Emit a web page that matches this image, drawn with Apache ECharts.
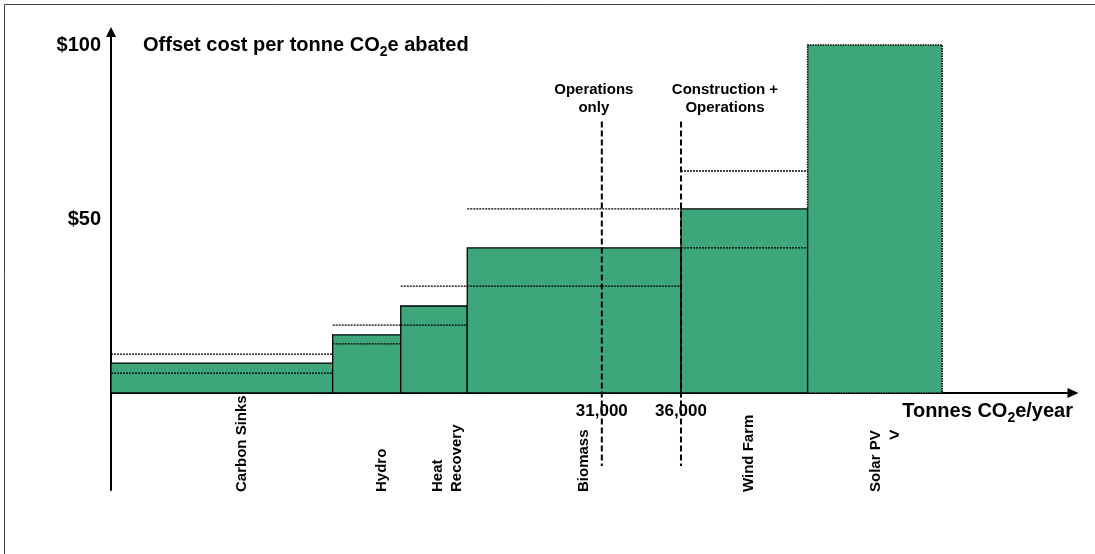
<!DOCTYPE html>
<html>
<head>
<meta charset="utf-8">
<script src="https://cdn.jsdelivr.net/npm/echarts@6/dist/echarts.min.js"></script>
<style>
  html, body { margin: 0; padding: 0; background: #fff; }
  #chart { width: 1095px; height: 554px; }
</style>
</head>
<body>
<div id="chart"></div>
<script>
// Abatement options, in order of increasing cost
const categories = ['Carbon Sinks', 'Hydro', 'Heat\nRecovery', 'Biomass', 'Wind Farm', 'Solar PV'];
// Tonnes CO2e abated per year by each option (bar widths)
const tonnes = [14000, 4300, 4200, 13500, 8000, 8500];
// Offset cost per tonne, central estimate ($)
const cost = [8.6, 16.7, 25.0, 41.7, 52.9, 100];
// Low / high cost estimates ($), shown as dotted lines
const costLow = [5.7, 14.1, 19.5, 30.7, 41.7, null];
const costHigh = [11.2, 19.5, 30.7, 52.9, 63.8, null];
// Cumulative abatement targets for the two scenarios
const scenarioTonnes = [31000, 36000];
const scenarioLabels = ['Operations\nonly', 'Construction +\nOperations'];
// Cost axis labels
const yTicks = [50, 100];

const FONT = '"Liberation Sans", Arial, Helvetica, sans-serif';
const GREEN = '#3ea67b';

// left edge of every bar = running total of the previous widths
const starts = [];
let running = 0;
tonnes.forEach(t => { starts.push(running); running += t; });

const barData = categories.map((c, i) => [starts[i], starts[i] + tonnes[i], cost[i]]);

const chart = echarts.init(document.getElementById('chart'), null, { renderer: 'canvas' });

chart.setOption({
  animation: false,
  backgroundColor: '#fff',
  title: [
    {
      text: 'Offset cost per tonne CO{sub|2}e abated',
      left: 143, top: 31, padding: 0,
      textStyle: {
        fontFamily: FONT, fontSize: 20, fontWeight: 'bold', color: '#000', lineHeight: 28,
        rich: { sub: { fontFamily: FONT, fontSize: 14, fontWeight: 'bold', color: '#000', lineHeight: 14, verticalAlign: 'bottom' } }
      }
    },
    {
      text: 'Tonnes CO{sub|2}e/year',
      right: 22, top: 397, padding: 0,
      textStyle: {
        fontFamily: FONT, fontSize: 20, fontWeight: 'bold', color: '#000', lineHeight: 28,
        rich: { sub: { fontFamily: FONT, fontSize: 14, fontWeight: 'bold', color: '#000', lineHeight: 14, verticalAlign: 'bottom' } }
      }
    }
  ],
  graphic: [
    { type: 'rect', shape: { x: 4.5, y: 4.5, width: 1200, height: 700 }, style: { fill: 'none', stroke: '#444', lineWidth: 1 }, silent: true, z: -1 },
    { type: 'text', x: 889, y: 436, style: { text: '>', font: 'bold 18px ' + FONT, fill: '#000', verticalAlign: 'middle' }, silent: true }
  ],
  grid: { left: 111, right: 22, top: 32, bottom: 64, containLabel: false, outerBoundsMode: 'none' },
  xAxis: {
    type: 'value',
    min: 0,
    max: 60760,
    axisLine: { show: true, onZero: true, lineStyle: { color: '#000', width: 2 }, symbol: ['none', 'triangle'], symbolSize: [10, 11] },
    axisTick: { show: false },
    splitLine: { show: false },
    axisLabel: { show: false }
  },
  yAxis: {
    type: 'value',
    min: -27.87,
    max: 103.74,
    axisLine: { show: true, onZero: true, lineStyle: { color: '#000', width: 2 }, symbol: ['none', 'triangle'], symbolSize: [10, 10] },
    axisTick: { show: false },
    splitLine: { show: false },
    axisLabel: {
      customValues: yTicks,
      formatter: v => '$' + v,
      fontFamily: FONT, fontSize: 20, fontWeight: 'bold', color: '#000', margin: 10
    }
  },
  series: [
    {
      // cost bars, width = tonnes abated
      type: 'custom',
      data: barData,
      z: 2,
      renderItem: (params, api) => {
        const i = params.dataIndex;
        const p0 = api.coord([api.value(0), 0]);
        const p1 = api.coord([api.value(1), api.value(2)]);
        const cs = params.coordSys;
        const dotted = i === categories.length - 1;
        // option names hang below the axis, a little right of each bar centre
        const mid = (p0[0] + p1[0]) / 2;
        const labelX = cs.x + (mid - cs.x) * 0.971 + 23;
        return {
          type: 'group',
          children: [
            {
              type: 'rect',
              shape: { x: p0[0], y: p1[1], width: p1[0] - p0[0], height: p0[1] - p1[1] },
              style: { fill: GREEN, stroke: '#000', lineWidth: dotted ? 1.6 : 1.3, lineDash: dotted ? [1.5, 1] : null }
            },
            {
              type: 'text',
              x: labelX,
              y: cs.y + cs.height + 2,
              rotation: Math.PI / 2,
              style: {
                text: categories[i], font: 'bold 15px ' + FONT, fill: '#000',
                align: 'left', verticalAlign: 'middle', lineHeight: 19
              }
            }
          ]
        };
      }
    },
    {
      // low / high cost estimates
      type: 'custom',
      data: barData,
      z: 3,
      renderItem: (params, api) => {
        const i = params.dataIndex;
        const x0 = api.value(0), x1 = api.value(1);
        const children = [];
        [costLow[i], costHigh[i]].forEach(v => {
          if (v == null) return;
          const a = api.coord([x0, v]), b = api.coord([x1, v]);
          children.push({
            type: 'line',
            shape: { x1: a[0], y1: a[1], x2: b[0], y2: b[1] },
            style: { stroke: '#000', lineWidth: 1.3, lineDash: [2, 1] }
          });
        });
        return { type: 'group', children };
      }
    },
    {
      // scenario thresholds with their tonnage below the axis
      type: 'custom',
      data: scenarioTonnes.map(t => [t]),
      z: 4,
      renderItem: (params, api) => {
        const i = params.dataIndex;
        const x = api.value(0);
        const top = api.coord([x, 78]);
        const bottom = api.coord([x, -21]);
        const base = api.coord([x, 0]);
        const shift = [-8, 44][i];
        return {
          type: 'group',
          children: [
            {
              type: 'line',
              shape: { x1: top[0], y1: top[1], x2: bottom[0], y2: bottom[1] },
              style: { stroke: '#000', lineWidth: 2, lineDash: [6, 3] }
            },
            {
              type: 'text',
              x: top[0] + shift,
              y: top[1] - 5,
              style: {
                text: scenarioLabels[i], font: 'bold 15px ' + FONT, fill: '#000',
                align: 'center', verticalAlign: 'bottom', lineHeight: 18
              }
            },
            {
              type: 'text',
              x: base[0],
              y: base[1] + 8,
              style: {
                text: x.toLocaleString('en-US'), font: 'bold 17px ' + FONT, fill: '#000',
                align: 'center', verticalAlign: 'top', lineHeight: 20
              }
            }
          ]
        };
      }
    }
  ]
});
</script>
</body>
</html>
